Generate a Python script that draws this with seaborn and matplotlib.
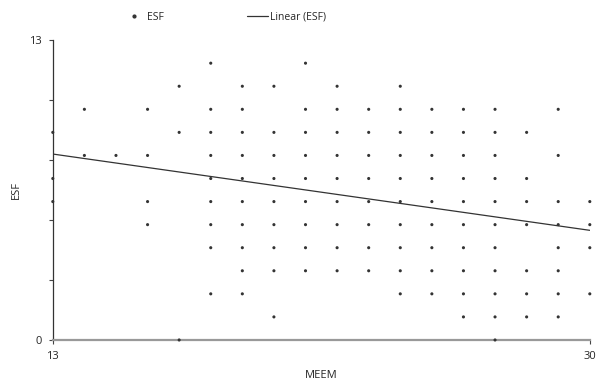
import numpy as np
import pandas as pd
import matplotlib
matplotlib.use("Agg")
import matplotlib.pyplot as plt
from matplotlib.lines import Line2D
import seaborn as sns

sns.set_style('white')
plt.rcParams['font.family'] = ['Open Sans', 'DejaVu Sans']

meem_scores = [13, 14, 15, 16, 17, 18, 19, 20, 21, 22, 23, 24, 25, 26, 27, 28, 29, 30]
esf_by_meem = [
    [9, 7, 6],
    [10, 8],
    [8],
    [10, 8, 6, 5],
    [11, 9, 0],
    [12, 10, 9, 8, 7, 6, 5, 4, 2],
    [11, 10, 9, 8, 7, 6, 5, 4, 3, 2],
    [11, 9, 8, 7, 6, 5, 4, 3, 1],
    [12, 10, 9, 8, 7, 6, 5, 4, 3],
    [11, 10, 9, 8, 7, 6, 5, 4, 3],
    [10, 9, 8, 7, 6, 5, 4, 3],
    [11, 10, 9, 8, 7, 6, 5, 4, 3, 2],
    [10, 9, 8, 7, 6, 5, 4, 3, 2],
    [10, 9, 8, 7, 6, 5, 4, 3, 2, 1],
    [10, 9, 8, 7, 6, 5, 4, 3, 2, 1, 0],
    [9, 7, 6, 5, 3, 2, 1],
    [10, 8, 6, 5, 4, 3, 2, 1],
    [6, 5, 4, 2],
]

meem = []
esf = []
for m, vals in zip(meem_scores, esf_by_meem):
    for v in vals:
        meem.append(m)
        esf.append(v)
df = pd.DataFrame({'MEEM': meem, 'ESF': esf})

fig = plt.figure(figsize=(6, 3.82), dpi=100)
ax = fig.add_axes([0.088, 0.11, 0.895, 0.785])

sns.scatterplot(data=df, x='MEEM', y='ESF', ax=ax, s=5, color='#333333',
                edgecolor='none', linewidth=0, clip_on=False, zorder=3)
sns.regplot(data=df, x='MEEM', y='ESF', ax=ax, scatter=False, ci=None,
            truncate=True, line_kws={'color': '#333333', 'linewidth': 0.9})

ax.set_xlim(13, 30)
ax.set_ylim(0, 13)
ax.set_xticks([13, 30])
ax.set_xticklabels(['13', '30'])
ax.set_yticks(np.linspace(0, 13, 6))
ax.set_yticklabels(['0', '', '', '', '', '13'])
ax.tick_params(axis='both', labelsize=8, length=3, width=0.8,
               color='#444444', direction='out', pad=5)
ax.tick_params(axis='both', bottom=True, left=True)
ax.set_xlabel('MEEM', fontsize=8)
ax.set_ylabel('ESF', fontsize=8)
ax.xaxis.set_label_coords(0.5, -0.1)
ax.yaxis.set_label_coords(-0.058, 0.5)

for side in ['top', 'right']:
    ax.spines[side].set_visible(False)
ax.spines['left'].set_color('#333333')
ax.spines['left'].set_linewidth(0.9)
ax.spines['bottom'].set_color('#999999')
ax.spines['bottom'].set_linewidth(1.6)

handles = [
    Line2D([], [], linestyle='none', marker='o', markersize=2,
           color='#333333', label='ESF'),
    Line2D([], [], color='#333333', linewidth=0.9, label='Linear (ESF)'),
]
fig.legend(handles=handles, loc='center', bbox_to_anchor=(0.375, 0.955),
           ncol=2, frameon=False, fontsize=7.5, columnspacing=8,
           handlelength=2.0, handletextpad=0.2)

fig.savefig('out.png', dpi=100)
